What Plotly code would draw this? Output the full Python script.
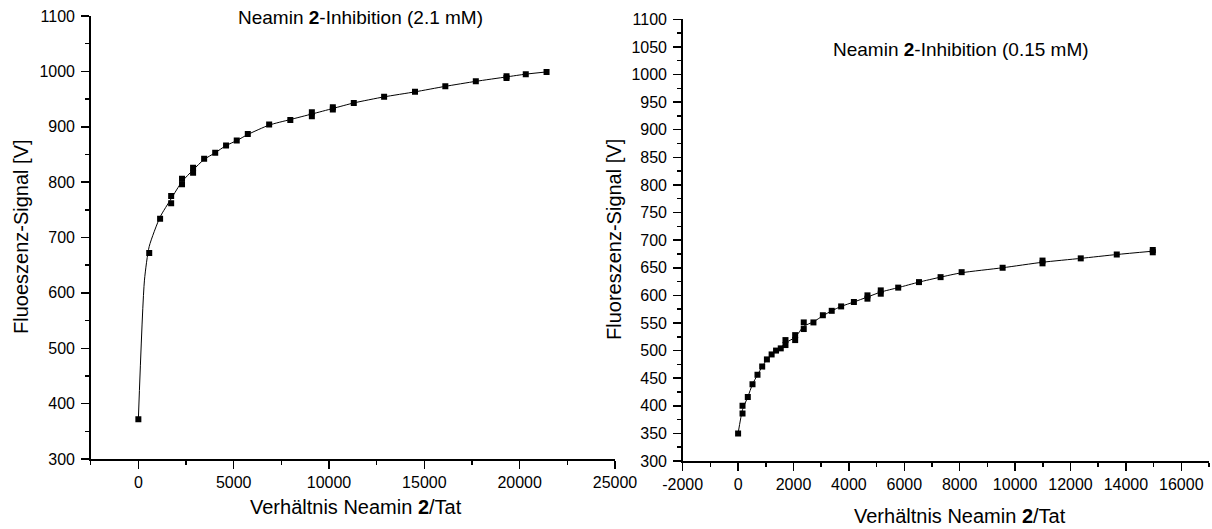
import plotly.graph_objects as go

# ---------------- data ----------------
left_x = [0, 570, 1140, 1720, 1720, 2290, 2290, 2870, 2870, 3450, 4030, 4600, 5160, 5740,
          6860, 7970, 9100, 9100, 10200, 10200, 11300, 12890, 14510, 16100, 17700, 19310,
          19310, 20320, 21410]
left_y = [372, 672, 734, 775, 762, 806, 796, 826, 817, 842, 853, 866, 875, 887,
          904, 912, 926, 919, 935, 931, 943, 954, 963, 973, 982, 991,
          988, 995, 999]
# fitted curve as drawn in the picture
left_fit_x = [0, 320, 570, 1140, 1720, 2290, 2870, 3450, 4030, 4600, 5160, 5740, 6860,
              7970, 9100, 10200, 11300, 12890, 14510, 16100, 17700, 19310, 20320, 21410]
left_fit_y = [372, 623, 684, 737, 770, 801, 822, 841, 853, 866, 875, 886, 903,
              913, 923, 933, 943, 954, 963, 973, 982, 990, 995, 999]

right_x = [0, 160, 160, 350, 520, 700, 870, 1040, 1210, 1370, 1540, 1710, 1710, 2060,
           2060, 2370, 2370, 2720, 3060, 3380, 3720, 4180, 4670, 4670, 5150, 5150, 5780,
           6530, 7310, 8070, 9550, 10990, 10990, 12370, 13670, 14970, 14970]
right_y = [350, 400, 386, 416, 439, 456, 471, 484, 493, 500, 504, 519, 510, 528,
           519, 551, 539, 551, 564, 572, 580, 588, 600, 594, 609, 603, 614,
           624, 633, 642, 650, 663, 658, 667, 674, 682, 678]
right_fit_x = [0, 160, 350, 520, 700, 870, 1040, 1210, 1370, 1540, 1710, 2060, 2370, 2720,
               3060, 3380, 3720, 4180, 4670, 5150, 5780, 6530, 7310, 8070, 9550, 10990,
               12370, 13670, 14970]
right_fit_y = [350, 393, 416, 439, 456, 471, 484, 493, 500, 505, 514, 524, 544, 552,
               563, 572, 580, 588, 597, 606, 614, 624, 633, 641, 650, 660,
               667, 674, 680]

left_title = "Neamin <b>2</b>-Inhibition (2.1 mM)"
right_title = "Neamin <b>2</b>-Inhibition (0.15 mM)"
x_title = "Verhältnis Neamin <b>2</b>/Tat"
left_y_title = "Fluoeszenz-Signal [V]"
right_y_title = "Fluoreszenz-Signal [V]"

right_xtick_vals = [-2000, 0, 2000, 4000, 6000, 8000, 10000, 12000, 14000, 16000]
right_xtick_text = ["-2000", "0", "2000", "4000", "6000", "8000", "10000", "12000", "14000", "16000"]

# ---------------- figure ----------------
W, H = 1212, 529
FONT = "Liberation Sans, Arial, sans-serif"

fig = go.Figure()
fig.add_trace(go.Scatter(x=left_fit_x, y=left_fit_y, mode="lines",
                         line=dict(color="black", width=1, shape="spline", smoothing=0.6),
                         xaxis="x", yaxis="y", showlegend=False, hoverinfo="skip"))
fig.add_trace(go.Scatter(x=left_x, y=left_y, mode="markers",
                         marker=dict(symbol="square", size=6, color="black"),
                         xaxis="x", yaxis="y", showlegend=False))
fig.add_trace(go.Scatter(x=right_fit_x, y=right_fit_y, mode="lines",
                         line=dict(color="black", width=1, shape="spline", smoothing=0.6),
                         xaxis="x2", yaxis="y2", showlegend=False, hoverinfo="skip"))
fig.add_trace(go.Scatter(x=right_x, y=right_y, mode="markers",
                         marker=dict(symbol="square", size=6, color="black"),
                         xaxis="x2", yaxis="y2", showlegend=False))

axis_common = dict(showline=True, linecolor="black", linewidth=1.5, showgrid=False,
                   zeroline=False, ticks="outside", ticklen=8, tickwidth=1.5,
                   tickcolor="black", tickfont=dict(family=FONT, size=16, color="black"),
                   fixedrange=True, automargin=False)

def px_x(p):
    return p / W

def px_y(p):
    return 1 - p / H

fig.update_layout(
    template="none",
    width=W, height=H,
    margin=dict(l=0, r=0, t=0, b=0, pad=0),
    paper_bgcolor="white", plot_bgcolor="white",
    font=dict(family=FONT, size=16, color="black"),
    xaxis=dict(domain=[px_x(90.7), px_x(615)], range=[-2500, 25000], dtick=5000, tick0=0,
               tickformat="d", anchor="y",
               minor=dict(dtick=2500, tick0=0, ticklen=4, tickwidth=1.5, ticks="outside",
                          tickcolor="black", showgrid=False),
               **axis_common),
    yaxis=dict(domain=[px_y(459), px_y(16)], range=[300, 1100], dtick=100, tick0=0,
               tickformat="d", anchor="x", ticklabelstandoff=3,
               minor=dict(dtick=50, tick0=0, ticklen=4, tickwidth=1.5, ticks="outside",
                          tickcolor="black", showgrid=False),
               **axis_common),
    xaxis2=dict(domain=[px_x(682.7), px_x(1209)], range=[-2000, 17000],
                tickmode="array", tickvals=right_xtick_vals, ticktext=right_xtick_text,
                anchor="y2",
                minor=dict(dtick=1000, tick0=0, ticklen=4, tickwidth=1.5, ticks="outside",
                           tickcolor="black", showgrid=False),
                **axis_common),
    yaxis2=dict(domain=[px_y(461), px_y(19.3)], range=[300, 1100], dtick=50, tick0=0,
                tickformat="d", anchor="x2", ticklabelstandoff=3,
                minor=dict(dtick=25, tick0=0, ticklen=4, tickwidth=1.5, ticks="outside",
                           tickcolor="black", showgrid=False),
                **axis_common),
)

def ann(text, x, y, size, angle=0):
    return dict(text=text, x=px_x(x), y=px_y(y), xref="paper", yref="paper",
                showarrow=False, xanchor="center", yanchor="middle", textangle=angle,
                font=dict(family=FONT, size=size, color="black"))

fig.update_layout(annotations=[
    ann(left_title, 360, 18, 19),
    ann(right_title, 961, 49, 19),
    ann(x_title, 356, 507, 20),
    ann(x_title, 960, 516, 20),
    ann(left_y_title, 21, 237, 20, -90),
    ann(right_y_title, 614, 240, 20, -90),
])

fig.write_html("out.html",
               config={"displayModeBar": False, "staticPlot": True},
               post_script="document.body.style.margin='0';document.body.style.padding='0';")
